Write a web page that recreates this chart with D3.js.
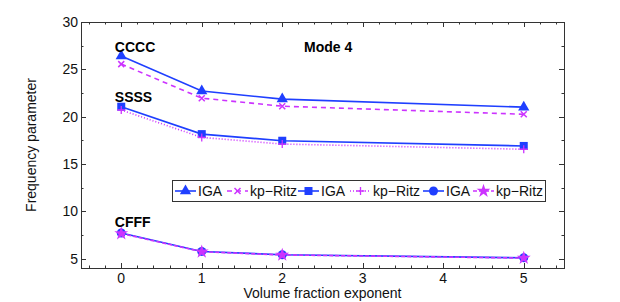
<!DOCTYPE html>
<html>
<head>
<meta charset="utf-8">
<script src="https://cdn.jsdelivr.net/npm/d3@7"></script>
<style>
  body { margin: 0; background: #fff; }
  text { font-family: "Liberation Sans", Arial, sans-serif; }
</style>
</head>
<body>
<div class="chart"></div>
<script>
let xVals = [0, 1, 2, 5]
let xTicks = [0, 1, 2, 3, 4, 5]
let yTicks = [5, 10, 15, 20, 25, 30]
let ccccIGA = [26.4, 22.7, 21.85, 21.0]
let ccccRitz = [25.55, 21.95, 21.1, 20.25]
let ssssIGA = [21.05, 18.15, 17.45, 16.9]
let ssssRitz = [20.7, 17.8, 17.1, 16.55]
let cfffIGA = [7.7, 5.75, 5.4, 5.08]
let cfffRitz = [7.65, 5.72, 5.38, 5.05]

let blue = "#1f3fff"
let magenta = "#cc33ff"

let series = [
  { name: "IGA", vals: ccccIGA, color: blue, dash: null, marker: "triangle" },
  { name: "kp\u2212Ritz", vals: ccccRitz, color: magenta, dash: "5,4", marker: "x" },
  { name: "IGA", vals: ssssIGA, color: blue, dash: null, marker: "square" },
  { name: "kp\u2212Ritz", vals: ssssRitz, color: magenta, dash: "1,2", marker: "plus" },
  { name: "IGA", vals: cfffIGA, color: blue, dash: null, marker: "circle" },
  { name: "kp\u2212Ritz", vals: cfffRitz, color: magenta, dash: "4,2", marker: "star" }
]

let width = 620
let height = 302
let pL = 81, pR = 564, pT = 22, pB = 268

let svg = d3.select(".chart")
  .append("svg")
  .attr("width", width)
  .attr("height", height)

let x = d3.scaleLinear().domain([-0.5, 5.5]).range([pL, pR])
let y = d3.scaleLinear().domain([4, 30]).range([pB, pT])

// frame
svg.append("rect")
  .attr("x", pL + 0.5).attr("y", pT + 0.5)
  .attr("width", pR - pL).attr("height", pB - pT)
  .attr("fill", "none").attr("stroke", "#333").attr("stroke-width", 1)

// ticks, inward, top+bottom / left+right
let xMinor = d3.range(-0.4, 5.5, 0.2).filter(v => Math.abs(v - Math.round(v)) > 0.01)
let yMinor = d3.range(5, 30, 2.5).filter(v => v % 5 !== 0)
let tickG = svg.append("g").attr("stroke", "#333").attr("stroke-width", 1)
xTicks.forEach(v => {
  let px = Math.round(x(v)) + 0.5
  tickG.append("line").attr("x1", px).attr("x2", px).attr("y1", pB).attr("y2", pB - 5)
  tickG.append("line").attr("x1", px).attr("x2", px).attr("y1", pT).attr("y2", pT + 5)
})
xMinor.forEach(v => {
  let px = Math.round(x(v)) + 0.5
  tickG.append("line").attr("x1", px).attr("x2", px).attr("y1", pB).attr("y2", pB - 2.5)
  tickG.append("line").attr("x1", px).attr("x2", px).attr("y1", pT).attr("y2", pT + 2.5)
})
yTicks.forEach(v => {
  let py = Math.round(y(v)) + 0.5
  tickG.append("line").attr("x1", pL).attr("x2", pL + 5).attr("y1", py).attr("y2", py)
  tickG.append("line").attr("x1", pR).attr("x2", pR - 5).attr("y1", py).attr("y2", py)
})
yMinor.forEach(v => {
  let py = Math.round(y(v)) + 0.5
  tickG.append("line").attr("x1", pL).attr("x2", pL + 2.5).attr("y1", py).attr("y2", py)
  tickG.append("line").attr("x1", pR).attr("x2", pR - 2.5).attr("y1", py).attr("y2", py)
})

// tick labels
svg.selectAll(".xl").data(xTicks).enter().append("text")
  .attr("x", d => x(d)).attr("y", pB + 15)
  .attr("text-anchor", "middle").attr("font-size", 14).attr("fill", "#111")
  .text(d => d)
svg.selectAll(".yl").data(yTicks).enter().append("text")
  .attr("x", pL - 3).attr("y", d => y(d) + 5)
  .attr("text-anchor", "end").attr("font-size", 14).attr("fill", "#111")
  .text(d => d)

svg.append("text")
  .attr("x", (pL + pR) / 2).attr("y", 298)
  .attr("text-anchor", "middle").attr("font-size", 14).attr("fill", "#111")
  .text("Volume fraction exponent")
svg.append("text")
  .attr("transform", `translate(36,${(pT + pB) / 2}) rotate(-90)`)
  .attr("text-anchor", "middle").attr("font-size", 14).attr("fill", "#111")
  .text("Frequency parameter")

let drawMarker = (g, kind, cx, cy, color) => {
  if (kind === "triangle") {
    g.append("path").attr("d", d3.symbol(d3.symbolTriangle, 55)()).attr("transform", `translate(${cx},${cy})`).attr("fill", color)
  } else if (kind === "square") {
    g.append("rect").attr("x", cx - 4).attr("y", cy - 4).attr("width", 8).attr("height", 8).attr("fill", color)
  } else if (kind === "circle") {
    g.append("circle").attr("cx", cx).attr("cy", cy).attr("r", 4.5).attr("fill", color)
  } else if (kind === "x") {
    g.append("path").attr("d", `M${cx - 3},${cy - 3}L${cx + 3},${cy + 3}M${cx - 3},${cy + 3}L${cx + 3},${cy - 3}`)
      .attr("stroke", color).attr("stroke-width", 1.5)
  } else if (kind === "plus") {
    g.append("path").attr("d", `M${cx - 4},${cy}L${cx + 4},${cy}M${cx},${cy - 4}L${cx},${cy + 4}`)
      .attr("stroke", color).attr("stroke-width", 1.3)
  } else if (kind === "star") {
    g.append("path").attr("d", d3.symbol(d3.symbolStar, 60)()).attr("transform", `translate(${cx},${cy})`).attr("fill", color)
  }
}

let line = d3.line().x((d, i) => x(xVals[i])).y(d => y(d))

series.forEach(s => {
  svg.append("path").datum(s.vals)
    .attr("d", line)
    .attr("fill", "none")
    .attr("stroke", s.color)
    .attr("stroke-width", 1.6)
    .attr("stroke-dasharray", s.dash)
  let g = svg.append("g")
  s.vals.forEach((v, i) => drawMarker(g, s.marker, x(xVals[i]), y(v), s.color))
})

// annotations
let notes = [
  { t: "CCCC", x: -0.08, y: 26.85 },
  { t: "SSSS", x: -0.08, y: 21.55 },
  { t: "CFFF", x: -0.08, y: 8.35 },
  { t: "Mode 4", x: 2.27, y: 26.85 }
]
svg.selectAll(".note").data(notes).enter().append("text")
  .attr("x", d => x(d.x))
  .attr("y", d => y(d.y))
  .attr("font-size", 14).attr("font-weight", "bold").attr("fill", "#000")
  .text(d => d.t)

// legend
let legend = svg.append("g")
legend.append("rect")
  .attr("x", 172.5).attr("y", 180.5).attr("width", 373).attr("height", 21)
  .attr("fill", "#fff").attr("stroke", "#333").attr("stroke-width", 1)
let legX = [175, 227, 298, 350, 423, 473]
series.forEach((s, i) => {
  let lx = legX[i], ly = 191
  legend.append("line")
    .attr("x1", lx).attr("x2", lx + 21).attr("y1", ly).attr("y2", ly)
    .attr("stroke", s.color).attr("stroke-width", 1.6)
    .attr("stroke-dasharray", s.dash)
  drawMarker(legend, s.marker, lx + 10.5, ly, s.color)
  legend.append("text")
    .attr("x", lx + 23).attr("y", ly + 5)
    .attr("font-size", 14).attr("fill", "#111")
    .text(s.name)
})
</script>
</body>
</html>
